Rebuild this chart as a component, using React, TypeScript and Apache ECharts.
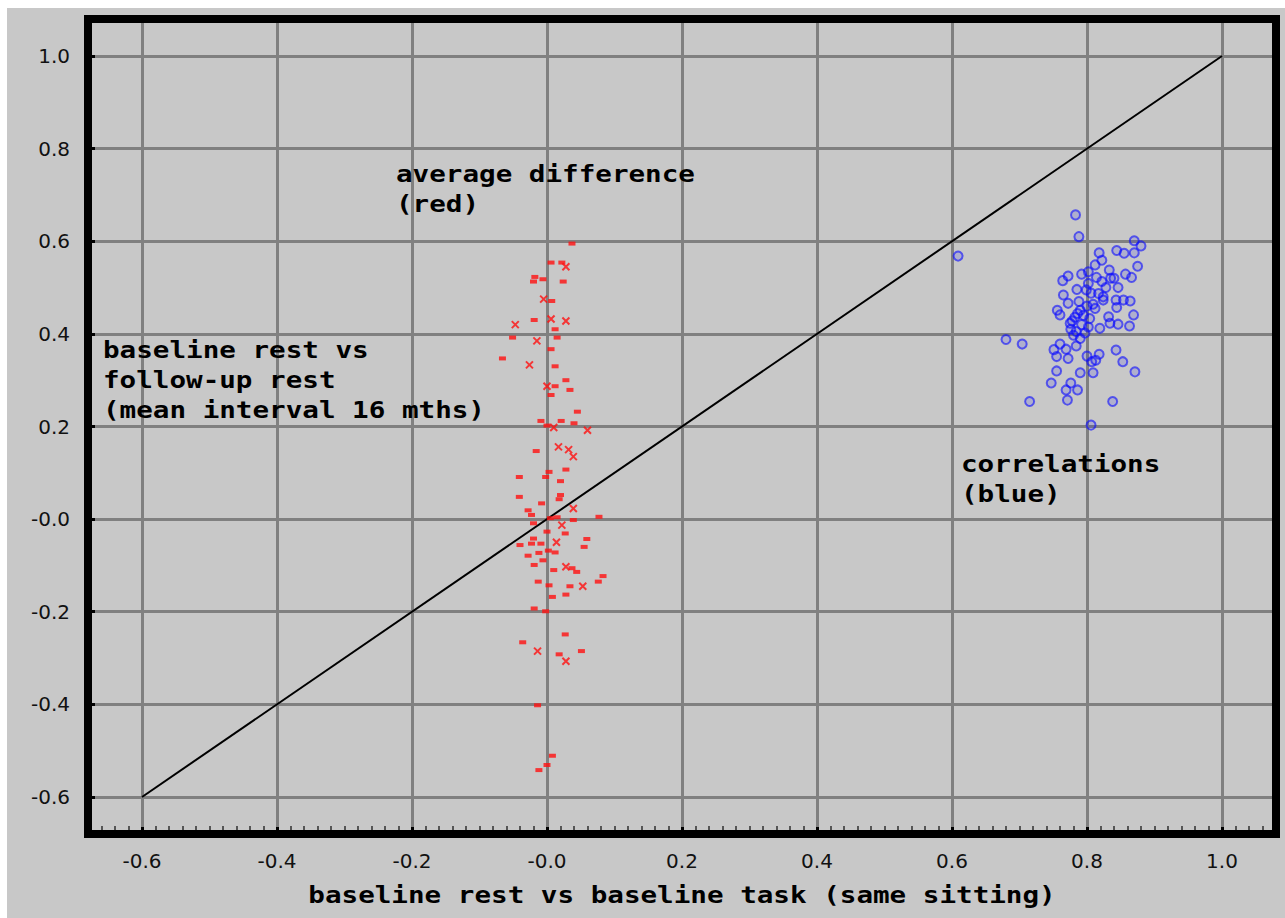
import React, { useEffect, useRef } from "react";
import * as echarts from "echarts";

const tickLabels = ["-0.6", "-0.4", "-0.2", "-0.0", "0.2", "0.4", "0.6", "0.8", "1.0"];

const redDots: number[][] = [
  [0.037, 0.595], [0.006, 0.554], [0.022, 0.554], [-0.018, 0.523], [-0.020, 0.513], [-0.006, 0.518],
  [0.024, 0.513], [0.007, 0.471], [-0.019, 0.430], [0.012, 0.410], [-0.051, 0.392], [0.015, 0.392],
  [0.006, 0.367], [-0.066, 0.347], [0.012, 0.330], [0.012, 0.287], [0.006, 0.268], [0.028, 0.300],
  [0.034, 0.279], [0.045, 0.232], [-0.009, 0.212], [0.000, 0.202], [0.021, 0.212], [0.040, 0.207],
  [-0.016, 0.147], [-0.041, 0.091], [0.003, 0.102], [-0.002, 0.091], [0.028, 0.107], [0.020, 0.082],
  [-0.041, 0.048], [0.020, 0.052], [-0.008, 0.034], [0.018, 0.043], [-0.028, 0.019], [-0.023, 0.009],
  [0.077, 0.005], [0.005, 0.002], [0.015, 0.004], [0.039, -0.002], [-0.020, -0.009], [0.000, -0.027],
  [0.027, -0.031], [-0.020, -0.042], [-0.040, -0.056], [-0.023, -0.053], [0.059, -0.043], [-0.009, -0.053],
  [0.055, -0.060], [0.002, -0.068], [0.012, -0.072], [-0.028, -0.079], [-0.012, -0.073], [-0.006, -0.089],
  [-0.019, -0.099], [0.010, -0.110], [0.037, -0.106], [0.044, -0.114], [0.083, -0.123], [0.076, -0.135],
  [-0.013, -0.135], [0.003, -0.143], [0.034, -0.145], [0.008, -0.168], [0.028, -0.163], [-0.019, -0.193],
  [-0.002, -0.199], [0.027, -0.249], [-0.036, -0.266], [0.018, -0.292], [0.051, -0.285], [-0.014, -0.402],
  [0.008, -0.511], [0.000, -0.531], [-0.012, -0.542],
];

const redCrosses: number[][] = [
  [0.028, 0.545], [-0.005, 0.475], [-0.047, 0.420], [0.006, 0.432], [0.028, 0.428], [-0.015, 0.385],
  [-0.026, 0.333], [0.000, 0.287], [0.010, 0.198], [0.060, 0.192], [0.017, 0.156], [0.032, 0.150],
  [0.039, 0.135], [0.039, 0.023], [0.022, -0.013], [0.014, -0.050], [0.028, -0.103], [0.053, -0.145],
  [-0.014, -0.285], [0.028, -0.307],
];

const blueCircles: number[][] = [
  [0.609, 0.568],
  [0.783, 0.657], [0.788, 0.610], [0.870, 0.601], [0.880, 0.590], [0.844, 0.580], [0.855, 0.574],
  [0.870, 0.575], [0.818, 0.575], [0.822, 0.559], [0.875, 0.546], [0.812, 0.549], [0.833, 0.538],
  [0.792, 0.529], [0.802, 0.534], [0.772, 0.525], [0.764, 0.515], [0.835, 0.520], [0.840, 0.520],
  [0.857, 0.529], [0.866, 0.522], [0.814, 0.522], [0.802, 0.509], [0.822, 0.513], [0.785, 0.496],
  [0.799, 0.495], [0.765, 0.484], [0.817, 0.487], [0.824, 0.473], [0.824, 0.480], [0.843, 0.473],
  [0.854, 0.473], [0.864, 0.471], [0.809, 0.464], [0.800, 0.460], [0.772, 0.466], [0.790, 0.451],
  [0.844, 0.457], [0.756, 0.451], [0.760, 0.441], [0.786, 0.444], [0.782, 0.436], [0.804, 0.433],
  [0.832, 0.437], [0.869, 0.441], [0.775, 0.423], [0.834, 0.423], [0.846, 0.421], [0.863, 0.417],
  [0.802, 0.415], [0.819, 0.412], [0.780, 0.397], [0.790, 0.390], [0.680, 0.388], [0.704, 0.378],
  [0.751, 0.366], [0.769, 0.367], [0.784, 0.374], [0.843, 0.365], [0.755, 0.351], [0.772, 0.347],
  [0.800, 0.352], [0.818, 0.356], [0.807, 0.340], [0.813, 0.343], [0.853, 0.340], [0.755, 0.320],
  [0.790, 0.316], [0.809, 0.316], [0.871, 0.318], [0.747, 0.294], [0.776, 0.294], [0.769, 0.279],
  [0.786, 0.279], [0.715, 0.254], [0.771, 0.257], [0.838, 0.254], [0.806, 0.203],
  [0.788, 0.470], [0.795, 0.440], [0.778, 0.428], [0.792, 0.420], [0.784, 0.405], [0.797, 0.402],
  [0.806, 0.488], [0.828, 0.500], [0.846, 0.500], [0.812, 0.455], [0.776, 0.410], [0.760, 0.378],
];

const diagonal: number[][] = [[-0.6, -0.6], [1.0, 1.0]];

const annotationA = "average difference\n(red)";
const annotationB = "baseline rest vs\nfollow-up rest\n(mean interval 16 mths)";
const annotationC = "correlations\n(blue)";
const xTitle = "baseline rest vs baseline task (same sitting)";

const fmt = (v: number) => {
  const i = Math.round((v + 0.6) / 0.2);
  if (i < 0 || i >= tickLabels.length) return "";
  if (Math.abs(v - (-0.6 + 0.2 * i)) > 1e-6) return "";
  return tickLabels[i];
};

const W = 1278;
const H = 910;
const G = { left: 81, right: 9, top: 11, bottom: 84 };

const monoText = (x: number, y: number, text: string, align = "left", vAlign = "top") => ({
  type: "text",
  x,
  y,
  scaleX: 1.2,
  z: 120,
  style: {
    text,
    x: 0,
    y: 0,
    fill: "#000",
    fontFamily: "DejaVu Sans Mono",
    fontWeight: "bold",
    fontSize: 23,
    lineHeight: 30,
    align,
    verticalAlign: vAlign,
  },
});

export default function App() {
  const ref = useRef<HTMLDivElement>(null);
  useEffect(() => {
    document.body.style.margin = "0";
    document.body.style.overflow = "hidden";
    const chart = echarts.init(ref.current!, null, { renderer: "svg" });
    const axisCommon = {
      type: "value",
      min: -0.68,
      max: 1.08,
      splitNumber: 9,
      axisLine: { show: false, onZero: false },
      axisTick: { show: true, inside: true, length: 7, lineStyle: { color: "#000", width: 3 } },
      splitLine: { show: true, lineStyle: { color: "#808080", width: 3 } },
      axisLabel: {
        formatter: fmt,
        showMinLabel: false,
        showMaxLabel: false,
        color: "#111",
        fontFamily: "DejaVu Sans",
        fontSize: 20,
      },
    };
    chart.setOption({
      animation: false,
      backgroundColor: "#c8c8c8",
      grid: { ...G, show: true, backgroundColor: "#c8c8c8", borderWidth: 0 },
      xAxis: {
        ...axisCommon,
        position: "bottom",
        axisLabel: { ...axisCommon.axisLabel, margin: 17 },
        minorTick: { show: true, splitNumber: 10, length: 8, lineStyle: { color: "#555", width: 2 } },
      },
      yAxis: {
        ...axisCommon,
        position: "left",
        axisLabel: { ...axisCommon.axisLabel, margin: 18 },
      },
      series: [
        {
          type: "line",
          data: diagonal,
          symbol: "none",
          lineStyle: { color: "#000", width: 2 },
          z: 3,
        },
        {
          type: "scatter",
          data: redDots,
          symbol: "rect",
          symbolSize: [7, 4],
          itemStyle: { color: "#ff1010" },
          z: 4,
        },
        {
          type: "scatter",
          data: redCrosses,
          symbol: "path://M0,0L10,10M10,0L0,10",
          symbolSize: 7,
          itemStyle: { color: "none", borderColor: "#ff1010", borderWidth: 2 },
          z: 4,
        },
        {
          type: "scatter",
          data: blueCircles,
          symbol: "circle",
          symbolSize: 9,
          itemStyle: { color: "rgba(0,0,255,0.15)", borderColor: "rgba(10,10,255,0.75)", borderWidth: 2 },
          z: 4,
        },
      ],
      graphic: [
        {
          type: "rect",
          z: 110,
          shape: { x: G.left, y: G.top, width: W - G.left - G.right, height: H - G.top - G.bottom },
          style: { fill: "none", stroke: "#000", lineWidth: 8 },
        },
        monoText(389, 151, annotationA),
        monoText(96, 327, annotationB),
        monoText(954, 441, annotationC),
        monoText(675, 887, xTitle, "center", "middle"),
      ],
    });
    return () => chart.dispose();
  }, []);
  return (
    <div style={{ width: 1285, height: 918, background: "#fff", paddingLeft: 7, paddingTop: 8, boxSizing: "border-box" }}>
      <div ref={ref} style={{ width: W, height: H }} />
    </div>
  );
}
